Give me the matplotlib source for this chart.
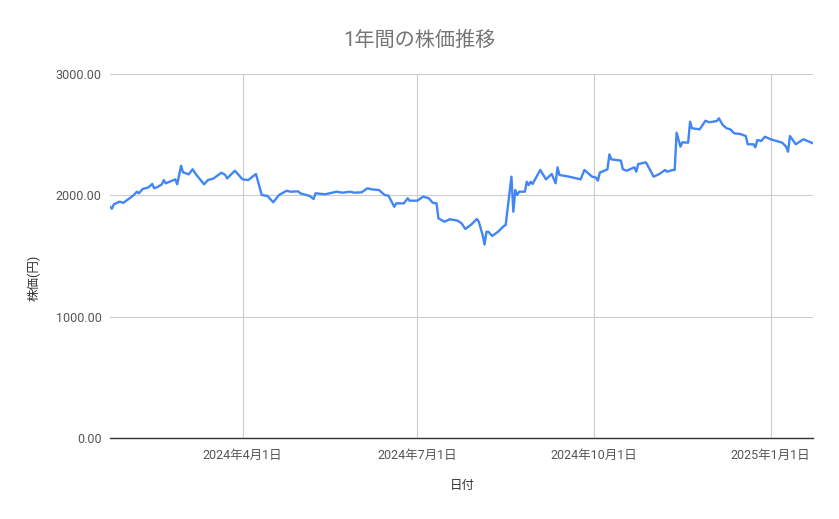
import matplotlib
matplotlib.use("Agg")
import matplotlib.pyplot as plt
import matplotlib.dates as mdates
from matplotlib.ticker import FuncFormatter, FixedLocator
import pandas as pd

plt.rcParams['font.family'] = ['Roboto', 'Noto Sans CJK JP', 'DejaVu Sans']

# values
dates = [
    "2024-01-23", "2024-01-24", "2024-01-25", "2024-01-28", "2024-01-30", "2024-02-01",
    "2024-02-04", "2024-02-06", "2024-02-07", "2024-02-09", "2024-02-12", "2024-02-14",
    "2024-02-15", "2024-02-17", "2024-02-19", "2024-02-20", "2024-02-21", "2024-02-23",
    "2024-02-26", "2024-02-27", "2024-02-29", "2024-03-01", "2024-03-04", "2024-03-06",
    "2024-03-08", "2024-03-12", "2024-03-14", "2024-03-17", "2024-03-21", "2024-03-23",
    "2024-03-24", "2024-03-28", "2024-04-01", "2024-04-04", "2024-04-08", "2024-04-11",
    "2024-04-14", "2024-04-17", "2024-04-20", "2024-04-24", "2024-04-26", "2024-04-30",
    "2024-05-01", "2024-05-06", "2024-05-08", "2024-05-09", "2024-05-14", "2024-05-20",
    "2024-05-23", "2024-05-27", "2024-05-29", "2024-06-02", "2024-06-05", "2024-06-07",
    "2024-06-11", "2024-06-14", "2024-06-16", "2024-06-19", "2024-06-20", "2024-06-24",
    "2024-06-26", "2024-06-27", "2024-07-01", "2024-07-04", "2024-07-07", "2024-07-09",
    "2024-07-11", "2024-07-12", "2024-07-15", "2024-07-18", "2024-07-22", "2024-07-24",
    "2024-07-26", "2024-07-29", "2024-08-01", "2024-08-02", "2024-08-04", "2024-08-05",
    "2024-08-06", "2024-08-07", "2024-08-09", "2024-08-12", "2024-08-15", "2024-08-16",
    "2024-08-19", "2024-08-20", "2024-08-21", "2024-08-22", "2024-08-23", "2024-08-26",
    "2024-08-27", "2024-08-28", "2024-08-29", "2024-08-30", "2024-09-03", "2024-09-06",
    "2024-09-09", "2024-09-11", "2024-09-12", "2024-09-13", "2024-09-18", "2024-09-24",
    "2024-09-26", "2024-09-30", "2024-10-02", "2024-10-03", "2024-10-04", "2024-10-08",
    "2024-10-09", "2024-10-10", "2024-10-15", "2024-10-16", "2024-10-18", "2024-10-22",
    "2024-10-23", "2024-10-24", "2024-10-28", "2024-10-30", "2024-11-01", "2024-11-04",
    "2024-11-07", "2024-11-08", "2024-11-11", "2024-11-12", "2024-11-13", "2024-11-15",
    "2024-11-16", "2024-11-19", "2024-11-20", "2024-11-21", "2024-11-25", "2024-11-28",
    "2024-11-30", "2024-12-04", "2024-12-05", "2024-12-07", "2024-12-09", "2024-12-11",
    "2024-12-13", "2024-12-16", "2024-12-19", "2024-12-20", "2024-12-23", "2024-12-24",
    "2024-12-25", "2024-12-27", "2024-12-29", "2025-01-01", "2025-01-07", "2025-01-09",
    "2025-01-10", "2025-01-11", "2025-01-14", "2025-01-18", "2025-01-21", "2025-01-23",
]
prices = [
    1905, 1890, 1926, 1948, 1939, 1962,
    1997, 2030, 2017, 2052, 2066, 2094,
    2058, 2071, 2091, 2126, 2099, 2112,
    2132, 2091, 2244, 2190, 2173, 2215,
    2168, 2091, 2126, 2140, 2187, 2168,
    2140, 2203, 2132, 2126, 2176, 2003,
    1995, 1943, 2003, 2038, 2030, 2033,
    2017, 1995, 1970, 2017, 2009, 2030,
    2022, 2030, 2022, 2025, 2058, 2050,
    2044, 2003, 1997, 1906, 1934, 1934,
    1976, 1956, 1956, 1989, 1976, 1939,
    1934, 1811, 1783, 1803, 1791, 1770,
    1723, 1758, 1805, 1783, 1673, 1595,
    1700, 1700, 1665, 1700, 1747, 1755,
    2154, 1865, 2044, 2003, 2030, 2030,
    2112, 2085, 2112, 2094, 2209, 2132,
    2176, 2099, 2231, 2168, 2154, 2132,
    2209, 2154, 2146, 2121, 2187, 2215,
    2338, 2297, 2286, 2215, 2203, 2231,
    2195, 2258, 2272, 2215, 2154, 2176,
    2209, 2195, 2209, 2209, 2516, 2401,
    2437, 2434, 2607, 2553, 2544, 2615,
    2602, 2613, 2635, 2580, 2553, 2544,
    2511, 2506, 2489, 2421, 2421, 2396,
    2456, 2448, 2483, 2462, 2434, 2401,
    2360, 2489, 2421, 2462, 2442, 2429,
]
tick_dates = ["2024-04-01", "2024-07-01", "2024-10-01", "2025-01-01"]
y_ticks = [0, 1000, 2000, 3000]

x = pd.to_datetime(dates)
ticks = mdates.date2num(pd.to_datetime(tick_dates))

fig = plt.figure(figsize=(8.39, 5.19), dpi=100)
ax = fig.add_axes([0.1311, 0.156, 0.969 - 0.1311, 0.8574 - 0.156])

ax.plot(x, prices, color="#4285F4", linewidth=1.7, zorder=3)

ax.set_xlim(x[0], x[-1])
ax.set_ylim(0, 3000)
ax.xaxis.set_major_locator(FixedLocator(ticks))
ax.xaxis.set_major_formatter(FuncFormatter(
    lambda v, p: "{0}年{1}月{2}日".format(*[getattr(mdates.num2date(v), a) for a in ("year", "month", "day")])))
ax.set_yticks(y_ticks)
ax.yaxis.set_major_formatter(FuncFormatter(lambda v, p: f"{v:.2f}"))

ax.grid(True, color="#cccccc", linewidth=0.8, zorder=0)
for s in ["top", "right", "left"]:
    ax.spines[s].set_visible(False)
ax.spines["bottom"].set_color("#333333")
ax.spines["bottom"].set_linewidth(1.0)
ax.spines["bottom"].set_zorder(4)
ax.tick_params(axis="both", length=0, labelsize=9, labelcolor="#555555")
ax.tick_params(axis="x", pad=8)
ax.tick_params(axis="y", pad=6)

fig.text(0.5, 0.923, "1年間の株価推移", ha="center", va="center", fontsize=14.5, color="#757575")
fig.text(0.5505, 0.064, "日付", ha="center", va="center", fontsize=9, color="#333333")
fig.text(0.04, 0.465, "株価(円)", ha="center", va="center", rotation=90, fontsize=9, color="#333333")

plt.savefig("out.png", dpi=100)
plt.close()
